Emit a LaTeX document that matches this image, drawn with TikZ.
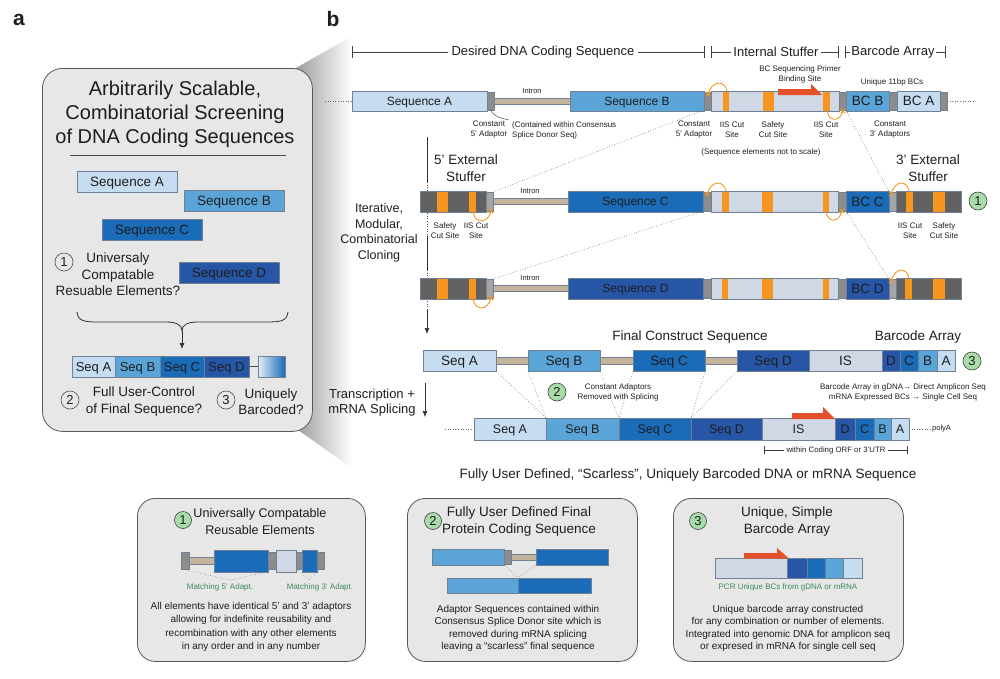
\documentclass[tikz,border=0pt]{standalone}
\usepackage{fontspec}
\setmainfont{Liberation Sans}
\usetikzlibrary{arrows.meta}
\definecolor{cA}{HTML}{C6DCF0}
\definecolor{cB}{HTML}{5BA4D8}
\definecolor{cC}{HTML}{1A6BB8}
\definecolor{cD}{HTML}{2756A6}
\definecolor{cIS}{HTML}{CFD8E4}
\definecolor{cAd}{HTML}{8C8C8C}
\definecolor{cAdL}{HTML}{A5A5A5}
\definecolor{cEx}{HTML}{616161}
\definecolor{cOr}{HTML}{F7961E}
\definecolor{cTan}{HTML}{C5B49C}
\definecolor{cRed}{HTML}{E4502A}
\definecolor{cGr}{HTML}{A8DCA9}
\definecolor{cGrT}{HTML}{3B8A5A}
\definecolor{cBox}{HTML}{E7E7E7}
\definecolor{cEdge}{HTML}{6F8192}
\definecolor{cTxt}{HTML}{1E1E1E}
\newcommand\fs[2]{\fontsize{#1pt}{#2pt}\selectfont}
% block without text: name,x1,y1,x2,y2,style
\newcommand\bx[6]{\node[blk,#6,minimum width={(#4-#2)*1pt},minimum height={(#5-#3)*1pt},anchor=north west] (#1) at (#2,#3) {};}
% block with text: name,x1,y1,x2,y2,style,fontsize,text
\newcommand\bt[8]{\bx{#1}{#2}{#3}{#4}{#5}{#6}\node[anchor=base,inner sep=0pt,font=\fs{#7}{#7},text=cTxt] (#1t) at ([yshift={-#7*0.36pt}]#1.center) {#8};}
\newcommand\ob[4]{\fill[cOr] (#1,#2) rectangle (#3,#4);}
\newcommand\xm[2]{\draw[orarc] (#1-2.2,#2-2.2) -- (#1+2.2,#2+2.2) (#1-2.2,#2+2.2) -- (#1+2.2,#2-2.2);}
\tikzset{
 blk/.style={draw=cEdge, line width=0.5pt, inner sep=0pt, outer sep=0pt},
 lab/.style={inner sep=0pt, text=cTxt, align=center},
 circ/.style={circle, draw=black!75, line width=0.6pt, fill=cGr, minimum size=18pt, inner sep=0pt, font=\fs{13}{15}, text=cTxt},
 wcirc/.style={circle, draw=black!70, line width=0.6pt, minimum size=18pt, inner sep=0pt, font=\fs{13}{15}, text=cTxt},
 dotc/.style={draw=black!60, dotted, line width=0.6pt},
 orarc/.style={draw=cOr, line width=0.9pt},
 panel/.style={draw=black!65, line width=0.8pt, fill=cBox, rounded corners=18pt, inner sep=0pt},
 hdr/.style={draw=black!75, line width=0.6pt},
 small/.style={lab, font=\fs{8}{10}},
}
\begin{document}
\begin{tikzpicture}[x=1pt,y=-1pt]
\useasboundingbox (0,0) rectangle (1000,678);
% ================= panel a =================
\shade[left color=black!38,right color=white] (296,68) -- (352,36) -- (352,468) -- (298,430) -- cycle;
\node[panel, rounded corners=20pt, minimum width=270pt, minimum height=363pt, anchor=north west] (pa) at (42,68) {};
\node[lab,font=\bfseries\fs{21}{24}] (la) at (19,20) {a};
\node[lab,font=\bfseries\fs{21}{24}] (lb) at (333,19) {b};
\node[lab,font=\fs{20}{24}] (ttl) at (175,114) {Arbitrarily Scalable,\\Combinatorial Screening\\of DNA Coding Sequences};
\coordinate (ul1) at (70,155); \coordinate (ul2) at (286,155);
\draw[black!70, line width=0.8pt] (ul1) -- (ul2);
\bt{qA}{77}{171}{177}{192}{fill=cA}{13.5}{Sequence A}
\bt{qB}{184}{190}{284}{211}{fill=cB}{13.5}{Sequence B}
\bt{qC}{102}{219}{202}{240}{fill=cC}{13.5}{Sequence C}
\bt{qD}{179}{262}{279}{283}{fill=cD}{13.5}{Sequence D}
\node[wcirc] (a1) at (64,262) {1};
\node[lab,font=\fs{13.5}{16.5}] (a1t) at (118,274.5) {Universaly\\Compatable\\Resuable Elements?};
\draw[black!80, line width=0.8pt] (77,312) .. controls (78,321) and (84,322) .. (98,322) -- (166,322) .. controls (177,322) and (182,325) .. (182,331) .. controls (182,325) and (187,322) .. (198,322) -- (266,322) .. controls (281,322) and (287,321) .. (288,312);
\coordinate (btip) at (182,331); \coordinate (barr) at (182,349);
\draw[-{Latex[length=6pt,width=5pt]}, black!80, line width=0.8pt] (btip) -- (barr);
\bt{pA}{72}{356}{115}{377}{fill=cA}{13}{Seq A}
\bt{pB}{115}{356}{160}{377}{fill=cB}{13}{Seq B}
\bt{pC}{160}{356}{204}{377}{fill=cC}{13}{Seq C}
\bt{pD}{204}{356}{249}{377}{fill=cD}{13}{Seq D}
\bx{pG}{258}{356}{285}{377}{left color=cA!50!white,right color=cC}
\draw[black!70, line width=0.6pt] (pD.east) -- (pG.west);
\node[wcirc] (a2) at (70,400) {2};
\node[lab,font=\fs{13.5}{16.5}] (a2t) at (144,401.5) {Full User-Control\\of Final Sequence?};
\node[wcirc] (a3) at (226,400) {3};
\node[lab,font=\fs{13.5}{16.5}] (a3t) at (271,401.5) {Uniquely\\Barcoded?};
% ================= header =================
\node[lab,font=\fs{13}{15},fill=white,inner xsep=3pt,inner ysep=1pt] (h1) at (543,52) {Desired DNA Coding Sequence};
\coordinate (h1a) at (352,52); \coordinate (h1b) at (704,52);
\draw[hdr] (h1a) -- (h1); \draw[hdr] (h1) -- (h1b);
\draw[hdr] (352,46) -- (352,58); \draw[hdr] (704,46) -- (704,58);
\node[lab,font=\fs{13}{15},fill=white,inner xsep=2pt,inner ysep=1pt] (h2) at (776,52) {Internal Stuffer};
\coordinate (h2a) at (711,52); \coordinate (h2b) at (838,52);
\draw[hdr] (h2a) -- (h2); \draw[hdr] (h2) -- (h2b);
\draw[hdr] (711,46) -- (711,58); \draw[hdr] (838,46) -- (838,58);
\node[lab,font=\fs{13}{15},fill=white,inner xsep=1pt,inner ysep=1pt] (h3) at (893,52) {Barcode Array};
\coordinate (h3a) at (845,52); \coordinate (h3b) at (945,52);
\draw[hdr] (h3a) -- (h3); \draw[hdr] (h3) -- (h3b);
\draw[hdr] (845,46) -- (845,58); \draw[hdr] (945,46) -- (945,58);
% ================= vertical cloning line =================
\draw[black!80, line width=0.6pt] (427,137) -- (427,182);
\draw[black!70, dotted, line width=0.6pt] (427,182) -- (427,236);
\draw[black!80, line width=0.6pt] (427,236) -- (427,270);
\draw[black!70, dotted, line width=0.6pt] (427,270) -- (427,310);
\coordinate (va) at (427,310); \coordinate (vb) at (427,334);
\draw[-{Latex[length=6pt,width=5pt]}, black!80, line width=0.6pt] (va) -- (vb);
\node[lab,font=\fs{12.5}{15.5}] (itl) at (379,233) {Iterative,\\Modular,\\Combinatorial\\Cloning};
\coordinate (ta) at (425,383); \coordinate (tb) at (425,417);
\draw[-{Latex[length=6pt,width=5pt]}, black!80, line width=0.6pt] (ta) -- (tb);
\node[lab,font=\fs{13}{15}] (trl) at (372,402.5) {Transcription +\\mRNA Splicing};
% ================= row 1 =================
\bt{sA1}{352}{91}{487}{111}{fill=cA}{12}{Sequence A}
\bx{ad11}{487}{92}{494}{110}{fill=cAd}
\bx{in1}{494}{98}{570}{104}{fill=cTan}
\bt{sB1}{570}{91}{704}{111}{fill=cB}{12}{Sequence B}
\bx{ad12}{704}{92}{711}{110}{fill=cAd}
\bx{st1}{711}{91}{839}{111}{fill=cIS}
\ob{723}{91.5}{729}{110.5}\ob{763}{91.5}{774}{110.5}\ob{823}{91.5}{830}{110.5}
\bx{ad13}{839}{92}{846}{110}{fill=cAd}
\bt{bcB1}{846}{91}{889}{111}{fill=cB}{13.5}{BC B}
\bx{ad14}{889}{92}{897}{110}{fill=cAd}
\bt{bcA1}{897}{91}{940}{111}{fill=cA}{13.5}{BC A}
\bx{ad15}{940}{92}{947}{110}{fill=cAd}
\coordinate (l1a) at (325,101); \draw[dotc] (l1a) -- (sA1.west);
\coordinate (r1a) at (975,101); \draw[dotc] (ad15.east) -- (r1a);
\node[lab,font=\fs{7.5}{9}] (it1) at (532,91) {Intron};
\fill[cRed] (778,89) -- (811,89) -- (811,84) -- (822,95) -- (778,95) -- cycle;
\node[small] (n1) at (800,74) {BC Sequencing Primer\\Binding Site};
\node[small] (n2) at (892,82) {Unique 11bp BCs};
\node[small] (n3) at (489,130) {Constant\\5' Adaptor};
\node[small,anchor=west,align=left] (n4) at (512,130) {(Contained within Consensus\\Splice Donor Seq)};
\coordinate (n4c) at (509,120);
\draw[black!70,line width=0.5pt] (ad11.south) .. controls (493,116) and (500,118) .. (n4c);
\node[small] (n5) at (694,130) {Constant\\5' Adaptor};
\node[small] (n6) at (732,130) {IIS Cut\\Site};
\node[small] (n7) at (773,130) {Safety\\Cut Site};
\node[small] (n8) at (826,130) {IIS Cut\\Site};
\node[small] (n9) at (890,130) {Constant\\3' Adaptors};
\node[small] (n10) at (761,152) {(Sequence elements not to scale)};
\draw[orarc] (727,91) .. controls (725,80) and (712,80) .. (708,94); \xm{708}{94}
\draw[orarc] (827,111) .. controls (829,122) and (840,122) .. (843,111); \xm{843}{111}
% ================= row 2 =================
\bx{ex21}{420}{191}{486}{212}{fill=cEx}
\ob{437}{191.5}{448}{211.5}\ob{469}{191.5}{476}{211.5}
\bx{ad21}{486}{192}{493}{211}{fill=cAdL}
\bx{in2}{493}{198}{568}{204}{fill=cTan}
\bt{sC2}{568}{191}{703}{212}{fill=cC}{12}{Sequence C}
\bx{ad22}{703}{192}{711}{211}{fill=cAd}
\bx{st2}{711}{191}{838}{212}{fill=cIS}
\ob{722}{191.5}{729}{211.5}\ob{762}{191.5}{773}{211.5}\ob{823}{191.5}{829}{211.5}
\bx{ad23}{838}{192}{846}{211}{fill=cAd}
\bt{bcC2}{846}{191}{889}{212}{fill=cC}{13.5}{BC C}
\bx{ad24}{889}{192}{896}{211}{fill=cAdL}
\bx{ex22}{896}{191}{961}{212}{fill=cEx}
\ob{906}{191.5}{913}{211.5}\ob{933}{191.5}{945}{211.5}
\node[circ] (g1) at (978,201) {1};
\node[lab,font=\fs{7.5}{9}] (it2) at (530,191) {Intron};
\node[lab,font=\fs{13.5}{17}] (e5) at (466,168.5) {5' External\\Stuffer};
\node[lab,font=\fs{13.5}{17}] (e3) at (928,168.5) {3' External\\Stuffer};
\node[small] (m1) at (445,231) {Safety\\Cut Site};
\node[small] (m2) at (476,231) {IIS Cut\\Site};
\node[small] (m3) at (910,231) {IIS Cut\\Site};
\node[small] (m4) at (944,231) {Safety\\Cut Site};
\draw[orarc] (726,191) .. controls (724,180) and (711,180) .. (707,194); \xm{707}{194}
\draw[orarc] (826,212) .. controls (828,223) and (839,223) .. (842,211); \xm{842}{211}
\draw[orarc] (473,212) .. controls (475,224) and (488,224) .. (491,211); \xm{491}{211}
\draw[orarc] (909,191) .. controls (907,180) and (895,180) .. (891,194); \xm{891}{194}
% ================= row 3 =================
\bx{ex31}{420}{278}{486}{299}{fill=cEx}
\ob{437}{278.5}{448}{298.5}\ob{469}{278.5}{476}{298.5}
\bx{ad31}{486}{279}{493}{298}{fill=cAdL}
\bx{in3}{493}{285}{568}{291}{fill=cTan}
\bt{sD3}{568}{278}{703}{299}{fill=cD}{12}{Sequence D}
\bx{ad32}{703}{279}{711}{298}{fill=cAd}
\bx{st3}{711}{278}{838}{299}{fill=cIS}
\ob{722}{278.5}{728}{298.5}\ob{762}{278.5}{773}{298.5}\ob{823}{278.5}{829}{298.5}
\bx{ad33}{838}{279}{846}{298}{fill=cAd}
\bt{bcD3}{846}{278}{889}{299}{fill=cD}{13.5}{BC D}
\bx{ad34}{889}{279}{896}{298}{fill=cAdL}
\bx{ex32}{896}{278}{961}{299}{fill=cEx}
\ob{905}{278.5}{912}{298.5}\ob{933}{278.5}{945}{298.5}
\node[lab,font=\fs{7.5}{9}] (it3) at (530,278) {Intron};
\draw[orarc] (473,299) .. controls (475,311) and (488,311) .. (491,298); \xm{491}{298}
\draw[orarc] (909,278) .. controls (907,267) and (895,267) .. (891,281); \xm{891}{281}
% diagonal dotted connectors
\draw[dotc] (ad21.north east) -- (ad12.south west);
\draw[dotc] (ad31.north east) -- (ad22.south west);
\draw[dotc] (ad13.south east) -- (ad24.north west);
\draw[dotc] (ad23.south east) -- (ad34.north west);
% ================= final construct =================
\node[lab,font=\fs{13.5}{15}] (fcs) at (690,337) {Final Construct Sequence};
\node[lab,font=\fs{13.5}{15}] (fba) at (918,337) {Barcode Array};
\bt{fA}{423}{350}{496}{371}{fill=cA}{13.5}{Seq A}
\bx{fi1}{496}{357}{528}{364}{fill=cTan}
\bt{fB}{528}{350}{600}{371}{fill=cB}{13.5}{Seq B}
\bx{fi2}{600}{357}{633}{364}{fill=cTan}
\bt{fC}{633}{350}{705}{371}{fill=cC}{13.5}{Seq C}
\bx{fi3}{705}{357}{737}{364}{fill=cTan}
\bt{fD}{737}{350}{809}{371}{fill=cD}{13.5}{Seq D}
\bt{fIS}{809}{350}{882}{371}{fill=cIS}{13.5}{IS}
\bt{fbD}{882}{350}{900}{371}{fill=cD}{13.5}{D}
\bt{fbC}{900}{350}{918}{371}{fill=cC}{13.5}{C}
\bt{fbB}{918}{350}{937}{371}{fill=cB}{13.5}{B}
\bt{fbA}{937}{350}{955}{371}{fill=cA}{13.5}{A}
\node[circ] (g3) at (972,361) {3};
\node[circ] (g2) at (557,392) {2};
\node[small] (ca) at (618,392) {Constant Adaptors\\Removed with Splicing};
\node[small] (bg) at (903,392) {Barcode Array in gDNA→ Direct Amplicon Seq\\mRNA Expressed BCs → Single Cell Seq};
% ================= mRNA =================
\bt{mA}{474}{418}{546}{440}{fill=cA}{12.5}{Seq A}
\bt{mB}{546}{418}{619}{440}{fill=cB}{12.5}{Seq B}
\bt{mC}{619}{418}{691}{440}{fill=cC}{12.5}{Seq C}
\bt{mD}{691}{418}{762}{440}{fill=cD}{12.5}{Seq D}
\bt{mIS}{762}{418}{835}{440}{fill=cIS}{12.5}{IS}
\bt{mbD}{835}{418}{855}{440}{fill=cD}{12.5}{D}
\bt{mbC}{855}{418}{874}{440}{fill=cC}{12.5}{C}
\bt{mbB}{874}{418}{891}{440}{fill=cB}{12.5}{B}
\bt{mbA}{891}{418}{909}{440}{fill=cA}{12.5}{A}
\coordinate (ml) at (445,429); \draw[dotc] (ml) -- (mA.west);
\node[lab,font=\fs{7.5}{9},anchor=west] (pa1) at (932,429) {polyA};
\draw[dotc] (mbA.east) -- (pa1.west);
\fill[cRed] (792,413) -- (823,413) -- (823,407) -- (835,419) -- (792,419) -- cycle;
\node[lab,font=\fs{7.8}{9},fill=white,inner xsep=2pt] (orf) at (836,450) {within Coding ORF or 3'UTR};
\coordinate (oa) at (764,450); \coordinate (ob) at (907,450);
\draw[hdr,line width=0.5pt] (oa) -- (orf); \draw[hdr,line width=0.5pt] (orf) -- (ob);
\draw[hdr,line width=0.5pt] (764,446) -- (764,454); \draw[hdr,line width=0.5pt] (907,446) -- (907,454);
\draw[dotc] (fA.south east) -- (mA.north east);
\draw[dotc] (fB.south west) -- (mA.north east);
\draw[dotc] (fB.south east) -- (mB.north east);
\draw[dotc] (fC.south west) -- (mB.north east);
\draw[dotc] (fC.south east) -- (mC.north east);
\draw[dotc] (fD.south west) -- (mC.north east);
\node[lab,font=\fs{13.5}{15}] (fud) at (688,475) {Fully User Defined, “Scarless”, Uniquely Barcoded DNA or mRNA Sequence};
% ================= bottom boxes =================
\node[panel, minimum width=228pt, minimum height=163pt, anchor=north west] (B1) at (137,498) {};
\node[panel, minimum width=230pt, minimum height=163pt, anchor=north west] (B2) at (407,498) {};
\node[panel, minimum width=230pt, minimum height=163pt, anchor=north west] (B3) at (673,498) {};
% box 1
\node[circ,minimum size=17pt] (k1) at (183,520) {1};
\node[lab,font=\fs{12.6}{17}] (k1t) at (260,521) {Universally Compatable\\Reusable Elements};
\bx{u1}{181}{552}{189}{569}{fill=cAd}
\bx{u2}{189}{557}{214}{564}{fill=cTan}
\bx{u3}{214}{550}{268}{572}{fill=cC}
\bx{u4}{268}{552}{276}{569}{fill=cAd}
\bx{u5}{276}{550}{296}{572}{fill=cIS}
\bx{u6}{296}{552}{302}{569}{fill=cAd}
\bx{u7}{302}{550}{317}{572}{fill=cC}
\bx{u8}{317}{552}{324}{569}{fill=cAd}
\coordinate (u5p) at (230,580); \coordinate (u3p) at (309,580);
\draw[dotc,line width=0.5pt] (u1.south west) -- (u5p); \draw[dotc,line width=0.5pt] (u3.south east) -- (u5p);
\draw[dotc,line width=0.5pt] (u6.south west) -- (u3p); \draw[dotc,line width=0.5pt] (u8.south) -- (u3p);
\node[small,text=cGrT] (k1a) at (220,587) {Matching 5' Adapt.};
\node[small,text=cGrT] (k1b) at (320,587) {Matching 3' Adapt.};
\node[lab,font=\fs{10}{13.3}] (k1c) at (251,627) {All elements have identical 5’ and 3’ adaptors\\allowing for indefinite reusability and\\recombination with any other elements\\in any order and in any number};
% box 2
\node[circ,minimum size=17pt] (k2) at (433,521) {2};
\node[lab,font=\fs{13.5}{17}] (k2t) at (519,521) {Fully User Defined Final\\Protein Coding Sequence};
\bx{w1}{432}{549}{504}{565}{fill=cB}
\bx{w2}{504}{550}{511}{564}{fill=cAd}
\bx{w3}{511}{554}{536}{560}{fill=cTan}
\bx{w4}{536}{549}{608}{565}{fill=cC}
\bx{w5}{447}{578}{518}{593}{fill=cB}
\bx{w6}{518}{578}{591}{593}{fill=cC}
\draw[dotc,line width=0.5pt] (w2.south west) -- (w5.north east);
\draw[dotc,line width=0.5pt] (w4.south west) -- (w5.north east);
\node[lab,font=\fs{10}{12.5}] (k2c) at (518,628.5) {Adaptor Sequences contained within\\Consensus Splice Donor site which is\\removed during mRNA splicing\\leaving a “scarless” final sequence};
% box 3
\node[circ,minimum size=17pt] (k3) at (698,521) {3};
\node[lab,font=\fs{13.5}{17}] (k3t) at (787,521) {Unique, Simple\\Barcode Array};
\bx{z1}{715}{558}{787}{578}{fill=cIS}
\bx{z2}{787}{558}{807}{578}{fill=cD}
\bx{z3}{807}{558}{825}{578}{fill=cC}
\bx{z4}{825}{558}{843}{578}{fill=cB}
\bx{z5}{843}{558}{862}{578}{fill=cA}
\fill[cRed] (744,553) -- (777,553) -- (777,548) -- (789,558.5) -- (744,558.5) -- cycle;
\node[small,text=cGrT] (k3a) at (788,587) {PCR Unique BCs from gDNA or mRNA};
\node[lab,font=\fs{10}{12.5}] (k3c) at (788,628.5) {Unique barcode array constructed\\for any combination or number of elements.\\Integrated into genomic DNA for amplicon seq\\or expresed in mRNA for single cell seq};
\end{tikzpicture}
\end{document}
